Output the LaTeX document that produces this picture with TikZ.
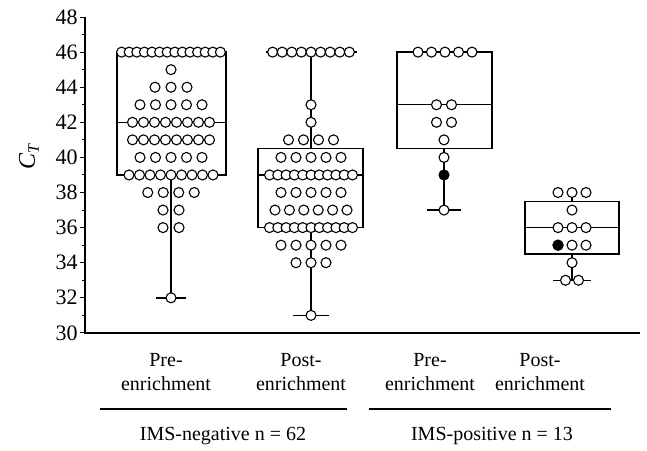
\documentclass[tikz,border=0pt]{standalone}
\usepackage{fontspec}
\setmainfont{Liberation Serif}

\tikzset{
  ctdot/.style={draw=black, fill=white, line width=1.1bp},
  ctbox/.style={line width=1.4bp},
  lbl/.style={font=\fontsize{20bp}{24bp}\selectfont, inner sep=0pt},
  ticklbl/.style={font=\fontsize{22bp}{24bp}\selectfont, inner sep=0pt},
}

% one row of dots: centre x, C_T value, count, spacing
\newcommand{\dotrow}[4]{%
  \foreach \k in {1,...,#3}
    \draw[ctdot] ({#1+(\k-(#3+1)/2)*#4},#2) circle (5bp);%
}

\begin{document}
\begin{tikzpicture}[x=1bp, y=17.55bp]
    \useasboundingbox (0,23.28) rectangle (647,48.97);

    % axes
    \draw[ctbox] (85,48) -- (85,30) -- (640,30);
    \foreach \v in {31,33,...,47}
        \draw[line width=1bp] (85,\v) -- (82,\v);
    \foreach \v in {30,32,...,48}
        \draw[line width=1bp] (85,\v) -- (80,\v) node[ticklbl, anchor=east, xshift=-2bp] {\v};
    \node[lbl, rotate=90] at (29,40) {\fontsize{24bp}{28bp}\selectfont\itshape C\raisebox{-4bp}{\fontsize{16bp}{18bp}\selectfont T}};

    % IMS-negative, pre-enrichment
    \draw[ctbox] (117,39) rectangle (226,46);
    \draw[ctbox] (117,42) -- (226,42);
    \draw[ctbox] (171,39) -- (171,32);
    \draw[ctbox] (156,32) -- (186,32);
    \dotrow{171}{46}{14}{7.6}
    \dotrow{171}{45}{1}{0}
    \dotrow{171}{44}{3}{16}
    \dotrow{171}{43}{5}{15.5}
    \dotrow{171}{42}{8}{11}
    \dotrow{171}{41}{8}{11}
    \dotrow{171}{40}{5}{15.5}
    \dotrow{171}{39}{9}{10.5}
    \dotrow{171}{38}{4}{15.5}
    \dotrow{171}{37}{2}{16}
    \dotrow{171}{36}{2}{16}
    \dotrow{171}{32}{1}{0}

    % IMS-negative, post-enrichment
    \draw[ctbox] (258,36) rectangle (363,40.5);
    \draw[ctbox] (258,39) -- (363,39);
    \draw[ctbox] (311,40.5) -- (311,46);
    \draw[ctbox] (266,46) -- (357,46);
    \draw[ctbox] (311,36) -- (311,31);
    \draw[ctbox] (293,31) -- (329,31);
    \dotrow{311}{46}{9}{9.6}
    \dotrow{311}{43}{1}{0}
    \dotrow{311}{42}{1}{0}
    \dotrow{311}{41}{4}{15}
    \dotrow{311}{40}{5}{15}
    \dotrow{311}{39}{11}{8.3}
    \dotrow{311}{38}{5}{15}
    \dotrow{311}{37}{6}{14.4}
    \dotrow{311}{36}{11}{8.3}
    \dotrow{311}{35}{5}{15}
    \dotrow{311}{34}{3}{15}
    \dotrow{311}{31}{1}{0}

    % IMS-positive, pre-enrichment
    \draw[ctbox] (397,40.5) rectangle (492,46);
    \draw[ctbox] (397,43) -- (492,43);
    \draw[ctbox] (444,40.5) -- (444,37);
    \draw[ctbox] (427,37) -- (461,37);
    \dotrow{445}{46}{5}{13.5}
    \dotrow{444}{43}{2}{15}
    \dotrow{444}{42}{2}{15}
    \dotrow{444}{41}{1}{0}
    \dotrow{444}{40}{1}{0}
    \draw[ctdot, fill=black] (444,39) circle (5bp);
    \dotrow{444}{37}{1}{0}

    % IMS-positive, post-enrichment
    \draw[ctbox] (525,34.5) rectangle (619,37.5);
    \draw[ctbox] (525,36) -- (619,36);
    \draw[ctbox] (572,37.5) -- (572,38);
    \draw[ctbox] (572,34.5) -- (572,33);
    \draw[ctbox] (553,33) -- (591,33);
    \dotrow{572}{38}{3}{14}
    \dotrow{572}{37}{1}{0}
    \dotrow{572}{36}{3}{14}
    \dotrow{572}{35}{3}{14}
    \draw[ctdot, fill=black] (558,35) circle (5bp);
    \dotrow{572}{34}{1}{0}
    \dotrow{572}{33}{2}{13}

    % group labels
    \node[lbl, align=center] (pre1) at (166,27.78) {Pre-\\enrichment};
    \node[lbl, align=center] (post1) at (301,27.78) {Post-\\enrichment};
    \node[lbl, align=center] (pre2) at (430,27.78) {Pre-\\enrichment};
    \node[lbl, align=center] (post2) at (540,27.78) {Post-\\enrichment};
    \draw[line width=1.2bp] (100,25.67) -- (347,25.67);
    \draw[line width=1.2bp] (369,25.67) -- (611,25.67);
    \node[lbl] (neg) at (223,24.13) {IMS-negative n = 62};
    \node[lbl] (pos) at (492,24.13) {IMS-positive n = 13};
\end{tikzpicture}
\end{document}
